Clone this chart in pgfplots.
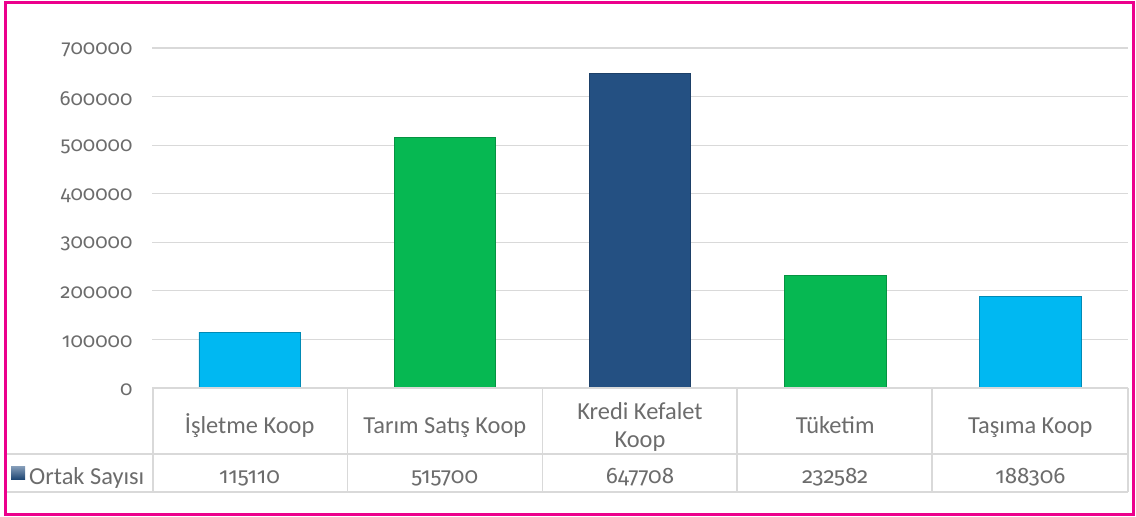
\documentclass[border=0pt]{standalone}
\usepackage{pgfplots}
\pgfplotsset{compat=1.18}
\usepackage{pgfplotstable}
\usepackage{fontspec}
\setmainfont{Carlito}
\newfontfamily\numfont{Fira Sans}[Numbers=OldStyle]
\definecolor{cyanbar}{RGB}{0,184,242}
\definecolor{greenbar}{RGB}{6,184,82}
\definecolor{bluebar}{RGB}{36,80,130}
\definecolor{gridgray}{RGB}{217,217,217}
\definecolor{txt}{RGB}{108,108,108}
\definecolor{framepink}{RGB}{236,0,140}

\pgfplotstableread[col sep=comma]{
x,v
0,115110
1,515700
2,647708
3,232582
4,188306
}\data

\begin{document}
\begin{tikzpicture}[x=1bp,y=1bp]
\useasboundingbox (0,0) rectangle (1136,-517);
\begin{axis}[
  at={(152bp,-388bp)}, anchor=south west,
  scale only axis, width=976bp, height=340bp,
  xmin=-0.5, xmax=4.5, ymin=0, ymax=700000,
  clip=false,
  axis line style={draw=none},
  tick style={draw=none},
  ymajorgrids, grid style={gridgray, line width=1.2bp},
  ytick={0,100000,...,700000},
  scaled y ticks=false,
  /pgf/number format/fixed,
  /pgf/number format/1000 sep={},
  /pgf/number format/assume math mode=true,
  yticklabel style={anchor=east, xshift=-16bp, yshift=-2bp, text=txt, font=\numfont\fontsize{20.5}{24}\selectfont},
  xtick={0,1,2,3,4},
  xticklabels={İşletme Koop, Tarım Satış Koop, {\raisebox{-14bp}{\begin{tabular}[b]{@{}c@{}}Kredi Kefalet\\Koop\end{tabular}}}, Tüketim, Taşıma Koop},
  xticklabel style={anchor=base, yshift=-45bp, text=txt, font=\fontsize{24.5}{28}\selectfont},
]
\addplot[ybar, bar width=0.52, bar shift=0pt, fill=cyanbar, draw=cyanbar!75!black, line width=0.6bp]
  coordinates {(0,115110) (4,188306)};
\addplot[ybar, bar width=0.52, bar shift=0pt, fill=greenbar, draw=greenbar!80!black, line width=0.6bp]
  coordinates {(1,515700) (3,232582)};
\addplot[ybar, bar width=0.52, bar shift=0pt, fill=bluebar, draw=bluebar!80!black, line width=0.6bp]
  coordinates {(2,647708)};
\addplot[draw=none, mark=none, nodes near coords, point meta=explicit symbolic,
  nodes near coords style={anchor=base, text=txt, font=\numfont\fontsize{22.5}{26}\selectfont}]
  table[x=x, y expr=-197000, meta=v] {\data};
\end{axis}
% data table grid
\begin{scope}[draw=gridgray, line width=1.5bp]
\draw (152,-388) -- (1128,-388);
\draw (5,-454) -- (1128,-454);
\draw (5,-492) -- (1128,-492);
\foreach \xx in {153,347.5,542.5,737,932,1128} \draw (\xx,-388) -- (\xx,-492);
\end{scope}
\shade[top color=bluebar!55!white, bottom color=bluebar!90!black] (11,-466) rectangle (25,-479);
\node[anchor=base west, text=txt, font=\fontsize{24.5}{28}\selectfont, inner sep=0pt] at (29,-484) {Ortak Sayısı};
\draw[framepink, line width=3bp] (5.5,-2.5) rectangle (1133.5,-514.5);
\end{tikzpicture}
\end{document}
